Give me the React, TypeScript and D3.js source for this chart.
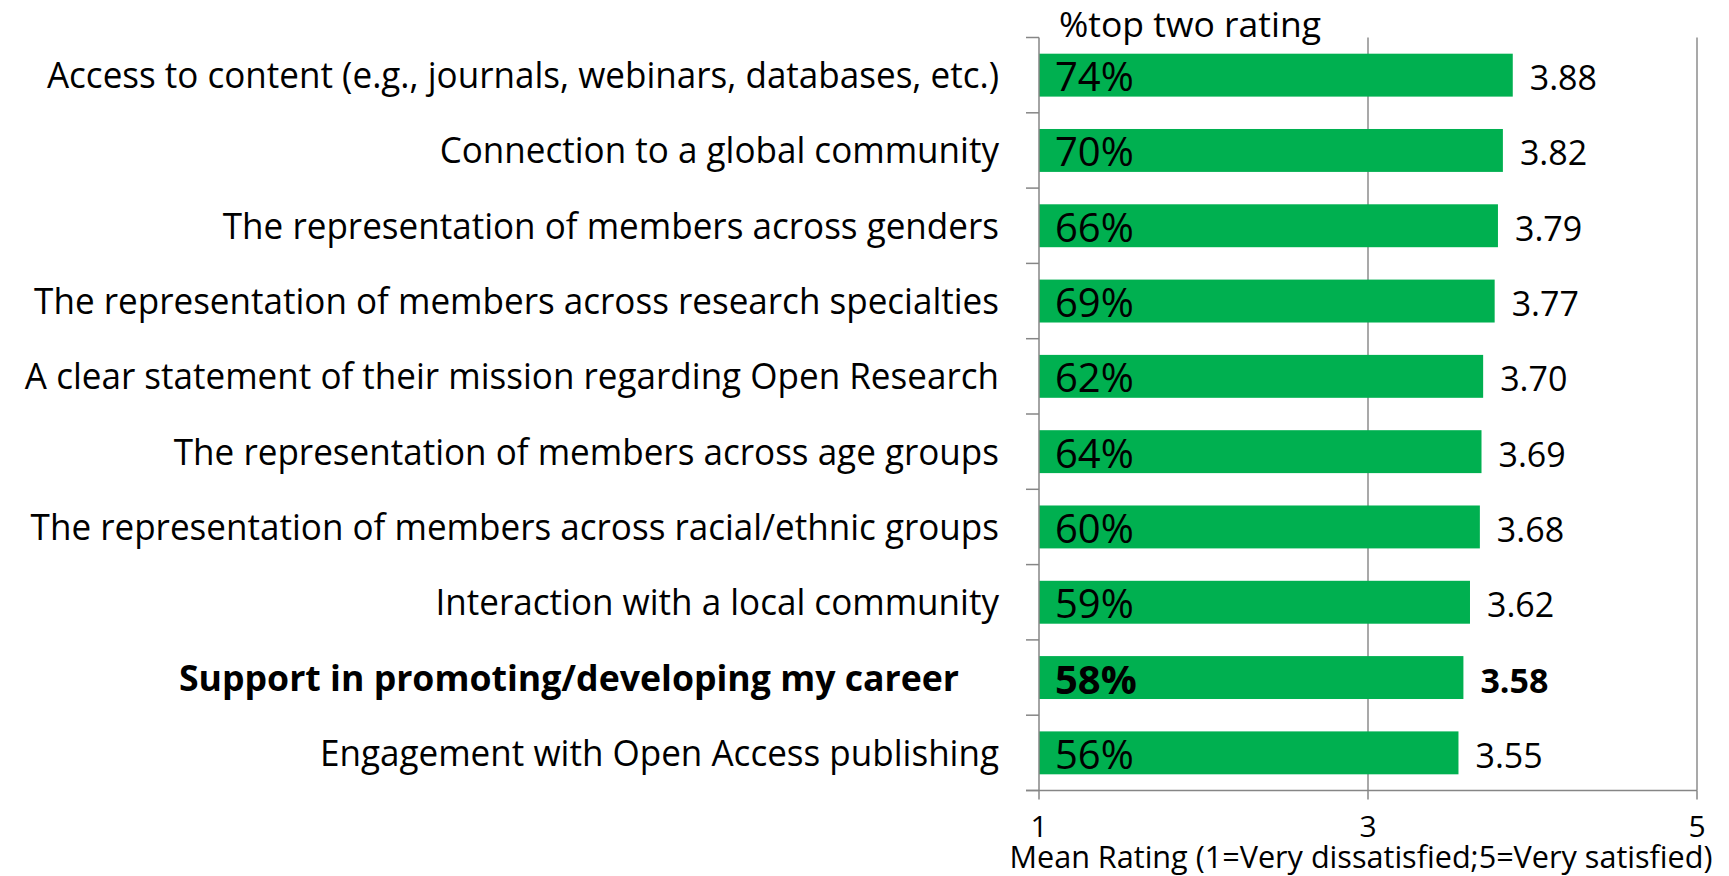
import React from "react";
import * as d3 from "d3";

const categories = [
  "Access to content (e.g., journals, webinars, databases, etc.)",
  "Connection to a global community",
  "The representation of members across genders",
  "The representation of members across research specialties",
  "A clear statement of their mission regarding Open Research",
  "The representation of members across age groups",
  "The representation of members across racial/ethnic groups",
  "Interaction with a local community",
  "Support in promoting/developing my career",
  "Engagement with Open Access publishing",
];
const meanRatings = [3.88, 3.82, 3.79, 3.77, 3.7, 3.69, 3.68, 3.62, 3.58, 3.55];
const topTwoPct = [74, 70, 66, 69, 62, 64, 60, 59, 58, 56];
const highlighted = ["Support in promoting/developing my career"];
const xTicks = [1, 3, 5];
const xTitle = "Mean Rating (1=Very dissatisfied;5=Very satisfied)";
const topTitle = "%top two rating";

const W = 1729;
const H = 876;
const FONT = "'Open Sans', 'Noto Sans', sans-serif";

export default function App() {
  const x = d3.scaleLinear().domain([1, 5]).range([1039, 1697]);
  const y = d3
    .scaleBand<string>()
    .domain(categories)
    .range([37.5, 790.5])
    .paddingInner(0.43)
    .paddingOuter(0.215);
  const step = y.step();
  const top = 37.5;
  const bottom = 790.5;
  const boundaries = d3.range(categories.length + 1).map((i) => top + i * step);

  return (
    <svg
      width={W}
      height={H}
      style={{ position: "absolute", left: 0, top: 0, background: "#fff" }}
      fontFamily={FONT}
    >
      <rect x={0} y={0} width={W} height={H} fill="#fff" />
      {/* gridlines */}
      {xTicks.slice(1).map((t) => (
        <line key={"g" + t} x1={x(t)} x2={x(t)} y1={top} y2={bottom} stroke="#8c8c8c" strokeWidth={1.5} />
      ))}
      {/* bars */}
      {categories.map((c, i) => (
        <rect
          key={"b" + i}
          x={x(1)}
          y={y(c)}
          width={x(meanRatings[i]) - x(1)}
          height={y.bandwidth()}
          fill="#00B050"
        />
      ))}
      {/* y axis */}
      <line x1={x(1)} x2={x(1)} y1={top} y2={bottom} stroke="#868686" strokeWidth={1.5} />
      {boundaries.map((b, i) => (
        <line key={"yt" + i} x1={x(1) - 13} x2={x(1)} y1={b} y2={b} stroke="#868686" strokeWidth={1.5} />
      ))}
      {/* x axis */}
      <line x1={x(1) - 13} x2={x(5)} y1={bottom} y2={bottom} stroke="#868686" strokeWidth={1.5} />
      {xTicks.map((t) => (
        <g key={"xt" + t}>
          <line x1={x(t)} x2={x(t)} y1={bottom} y2={bottom + 9} stroke="#868686" strokeWidth={1.5} />
          <text x={x(t)} y={837} textAnchor="middle" fontSize={30} fill="#000">
            {t}
          </text>
        </g>
      ))}
      <text x={1361} y={868} textAnchor="middle" fontSize={30.6} fill="#000">
        {xTitle}
      </text>
      <text x={1059} y={37} fontSize={35.5} fill="#000">
        {topTitle}
      </text>
      {/* category labels */}
      {categories.map((c, i) => {
        const bold = highlighted.includes(c);
        const cy = (y(c) as number) + y.bandwidth() / 2;
        const ax = bold ? 959 : 999;
        const sx = bold ? 0.99 : 0.974;
        return (
          <text
            key={"l" + i}
            transform={`translate(${ax},${cy + 13}) scale(${sx},1)`}
            textAnchor="end"
            fontSize={36}
            fontWeight={bold ? 700 : 400}
            fill="#000"
          >
            {c}
          </text>
        );
      })}
      {/* percent labels */}
      {categories.map((c, i) => {
        const bold = highlighted.includes(c);
        const cy = (y(c) as number) + y.bandwidth() / 2;
        return (
          <text key={"p" + i} x={1055} y={cy + 16} fontSize={40} fontWeight={bold ? 700 : 400} fill="#000">
            {topTwoPct[i] + "%"}
          </text>
        );
      })}
      {/* value labels */}
      {categories.map((c, i) => {
        const bold = highlighted.includes(c);
        const cy = (y(c) as number) + y.bandwidth() / 2;
        return (
          <text
            key={"v" + i}
            x={x(meanRatings[i]) + 17}
            y={cy + 15}
            fontSize={34}
            fontWeight={bold ? 700 : 400}
            fill="#000"
          >
            {meanRatings[i].toFixed(2)}
          </text>
        );
      })}
    </svg>
  );
}
